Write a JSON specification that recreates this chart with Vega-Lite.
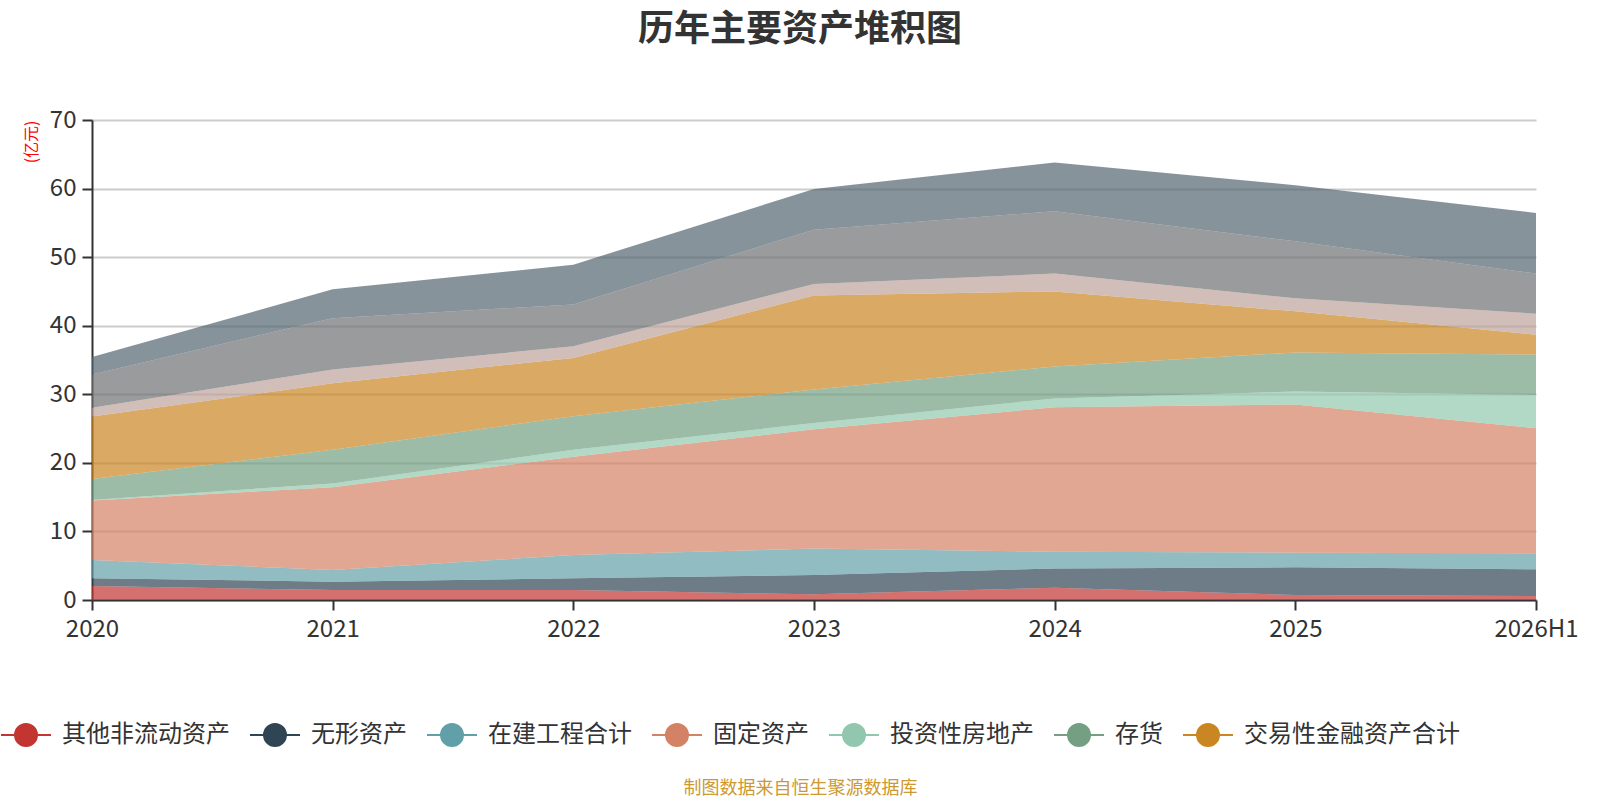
{
  "$schema": "https://vega.github.io/schema/vega-lite/v6.json",
  "description": "历年主要资产堆积图",
  "width": 1444,
  "height": 480,
  "autosize": {"type": "none"},
  "padding": {"left": 92, "top": 120, "right": 64, "bottom": 200},
  "background": "white",
  "title": {
    "text": "历年主要资产堆积图",
    "anchor": "middle",
    "dx": -14,
    "offset": 59,
    "fontSize": 36,
    "fontWeight": "bold",
    "color": "#333333",
    "font": "Noto Sans CJK SC"
  },
  "config": {
    "view": {"stroke": null},
    "font": "Noto Sans CJK SC"
  },
  "data": {
    "values": [
      {"year": "2020", "name": "其他非流动资产", "value": 2.04},
      {"year": "2021", "name": "其他非流动资产", "value": 1.46},
      {"year": "2022", "name": "其他非流动资产", "value": 1.46},
      {"year": "2023", "name": "其他非流动资产", "value": 0.83},
      {"year": "2024", "name": "其他非流动资产", "value": 1.8},
      {"year": "2025", "name": "其他非流动资产", "value": 0.73},
      {"year": "2026H1", "name": "其他非流动资产", "value": 0.58},
      {"year": "2020", "name": "无形资产", "value": 1.13},
      {"year": "2021", "name": "无形资产", "value": 1.21},
      {"year": "2022", "name": "无形资产", "value": 1.71},
      {"year": "2023", "name": "无形资产", "value": 2.82},
      {"year": "2024", "name": "无形资产", "value": 2.8},
      {"year": "2025", "name": "无形资产", "value": 4.04},
      {"year": "2026H1", "name": "无形资产", "value": 3.9},
      {"year": "2020", "name": "在建工程合计", "value": 2.67},
      {"year": "2021", "name": "在建工程合计", "value": 1.71},
      {"year": "2022", "name": "在建工程合计", "value": 3.4},
      {"year": "2023", "name": "在建工程合计", "value": 3.85},
      {"year": "2024", "name": "在建工程合计", "value": 2.45},
      {"year": "2025", "name": "在建工程合计", "value": 2.13},
      {"year": "2026H1", "name": "在建工程合计", "value": 2.32},
      {"year": "2020", "name": "固定资产", "value": 8.66},
      {"year": "2021", "name": "固定资产", "value": 12.07},
      {"year": "2022", "name": "固定资产", "value": 14.33},
      {"year": "2023", "name": "固定资产", "value": 17.4},
      {"year": "2024", "name": "固定资产", "value": 21.05},
      {"year": "2025", "name": "固定资产", "value": 21.6},
      {"year": "2026H1", "name": "固定资产", "value": 18.25},
      {"year": "2020", "name": "投资性房地产", "value": 0.1},
      {"year": "2021", "name": "投资性房地产", "value": 0.55},
      {"year": "2022", "name": "投资性房地产", "value": 1.0},
      {"year": "2023", "name": "投资性房地产", "value": 0.9},
      {"year": "2024", "name": "投资性房地产", "value": 1.3},
      {"year": "2025", "name": "投资性房地产", "value": 1.9},
      {"year": "2026H1", "name": "投资性房地产", "value": 4.85},
      {"year": "2020", "name": "存货", "value": 3.05},
      {"year": "2021", "name": "存货", "value": 4.9},
      {"year": "2022", "name": "存货", "value": 4.9},
      {"year": "2023", "name": "存货", "value": 4.9},
      {"year": "2024", "name": "存货", "value": 4.66},
      {"year": "2025", "name": "存货", "value": 5.7},
      {"year": "2026H1", "name": "存货", "value": 5.9},
      {"year": "2020", "name": "交易性金融资产合计", "value": 9.1},
      {"year": "2021", "name": "交易性金融资产合计", "value": 9.7},
      {"year": "2022", "name": "交易性金融资产合计", "value": 8.5},
      {"year": "2023", "name": "交易性金融资产合计", "value": 13.7},
      {"year": "2024", "name": "交易性金融资产合计", "value": 10.94},
      {"year": "2025", "name": "交易性金融资产合计", "value": 6.0},
      {"year": "2026H1", "name": "交易性金融资产合计", "value": 2.9},
      {"year": "2020", "name": "应收账款", "value": 1.3},
      {"year": "2021", "name": "应收账款", "value": 2.0},
      {"year": "2022", "name": "应收账款", "value": 1.7},
      {"year": "2023", "name": "应收账款", "value": 1.7},
      {"year": "2024", "name": "应收账款", "value": 2.6},
      {"year": "2025", "name": "应收账款", "value": 1.9},
      {"year": "2026H1", "name": "应收账款", "value": 3.05},
      {"year": "2020", "name": "长期股权投资", "value": 4.85},
      {"year": "2021", "name": "长期股权投资", "value": 7.5},
      {"year": "2022", "name": "长期股权投资", "value": 6.1},
      {"year": "2023", "name": "长期股权投资", "value": 7.9},
      {"year": "2024", "name": "长期股权投资", "value": 9.1},
      {"year": "2025", "name": "长期股权投资", "value": 8.3},
      {"year": "2026H1", "name": "长期股权投资", "value": 5.85},
      {"year": "2020", "name": "货币资金", "value": 2.55},
      {"year": "2021", "name": "货币资金", "value": 4.2},
      {"year": "2022", "name": "货币资金", "value": 5.8},
      {"year": "2023", "name": "货币资金", "value": 5.95},
      {"year": "2024", "name": "货币资金", "value": 7.1},
      {"year": "2025", "name": "货币资金", "value": 8.2},
      {"year": "2026H1", "name": "货币资金", "value": 8.85}
    ]
  },
  "transform": [
    {
      "calculate": "indexof(['其他非流动资产','无形资产','在建工程合计','固定资产','投资性房地产','存货','交易性金融资产合计','应收账款','长期股权投资','货币资金'], datum.name)",
      "as": "idx"
    }
  ],
  "mark": {"type": "area", "opacity": 0.7, "interpolate": "linear"},
  "encoding": {
    "x": {
      "field": "year",
      "type": "ordinal",
      "scale": {"type": "point", "padding": 0},
      "axis": {
        "title": "制图数据来自恒生聚源数据库",
        "titleColor": "#cc9933",
        "titleFontSize": 18,
        "titleFontWeight": "normal",
        "titleX": 708,
        "titleY": 188,
        "titleBaseline": "middle",
        "labelAngle": 0,
        "labelFontSize": 24,
        "labelColor": "#333333",
        "labelPadding": 7,
        "tickSize": 10,
        "tickWidth": 2,
        "tickColor": "#333333",
        "domainColor": "#333333",
        "domainWidth": 2,
        "grid": false
      }
    },
    "y": {
      "field": "value",
      "type": "quantitative",
      "stack": "zero",
      "scale": {"domain": [0, 70], "nice": false},
      "axis": {
        "title": "(亿元)",
        "titleColor": "#ff0000",
        "titleFontSize": 16,
        "titleFontWeight": "normal",
        "titleAnchor": "end",
        "titlePadding": 10,
        "values": [0, 10, 20, 30, 40, 50, 60, 70],
        "labelFontSize": 24,
        "labelColor": "#333333",
        "labelPadding": 6,
        "tickSize": 10,
        "tickWidth": 2,
        "tickColor": "#333333",
        "domainColor": "#333333",
        "domainWidth": 2,
        "grid": true,
        "gridColor": "#cccccc",
        "gridWidth": 2
      }
    },
    "color": {
      "field": "name",
      "type": "nominal",
      "scale": {
        "domain": ["其他非流动资产", "无形资产", "在建工程合计", "固定资产", "投资性房地产", "存货", "交易性金融资产合计", "应收账款", "长期股权投资", "货币资金"],
        "range": ["#c23531", "#2f4554", "#61a0a8", "#d48265", "#91c7ae", "#749f83", "#ca8622", "#bda29a", "#6e7074", "#546570"]
      },
      "legend": {
        "title": null,
        "orient": "none",
        "direction": "horizontal",
        "legendX": -92,
        "legendY": 589,
        "padding": 0,
        "values": ["其他非流动资产", "无形资产", "在建工程合计", "固定资产", "投资性房地产", "存货", "交易性金融资产合计"],
        "symbolType": "M-1,0L1,0M-0.44,0A0.44,0.44,0,1,1,0.44,0A0.44,0.44,0,1,1,-0.44,0Z",
        "symbolSize": 2500,
        "symbolStrokeWidth": 2,
        "symbolOpacity": 1,
        "labelFontSize": 24,
        "labelColor": "#333333",
        "labelOffset": 10,
        "labelLimit": 0,
        "columnPadding": 16,
        "encode": {
          "symbols": {
            "update": {
              "stroke": {"scale": "color", "field": "value"},
              "fill": {"scale": "color", "field": "value"},
              "opacity": {"value": 1}
            }
          }
        }
      }
    },
    "order": {"field": "idx", "type": "quantitative"}
  }
}
